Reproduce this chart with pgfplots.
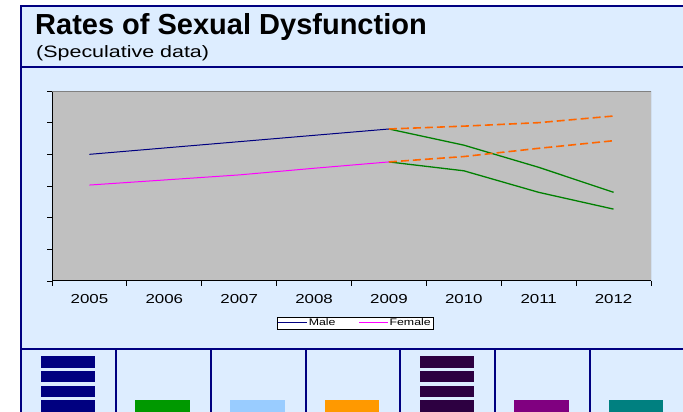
\documentclass[border=0pt]{standalone}
\usepackage{fontspec}
\setmainfont{Liberation Sans}
\newfontfamily\widefont{Liberation Sans}[FakeStretch=1.3]
\usepackage{pgfplots}
\pgfplotsset{compat=1.18}
\definecolor{panel}{RGB}{221,237,255}
\definecolor{navyb}{RGB}{0,0,128}
\definecolor{plotgrey}{RGB}{192,192,192}
\definecolor{magline}{RGB}{255,0,255}
\definecolor{greenline}{RGB}{0,128,0}
\definecolor{orangeline}{RGB}{255,102,0}
\definecolor{bargreen}{RGB}{0,153,0}
\definecolor{barlblue}{RGB}{153,204,255}
\definecolor{barorange}{RGB}{255,153,0}
\definecolor{bardpurple}{RGB}{45,0,65}
\definecolor{barpurple}{RGB}{128,0,128}
\definecolor{barteal}{RGB}{0,128,128}
\begin{document}
\begin{tikzpicture}[x=1pt,y=1pt]
\useasboundingbox (0,0) rectangle (683,412);
\fill[panel] (20.5,0) rectangle (683,405.5);
\draw[navyb, line width=2pt] (20.5,0) -- (20.5,405.5) -- (683,405.5);
\draw[navyb, line width=2pt] (20.5,344.5) -- (683,344.5);
\draw[navyb, line width=2pt] (20.5,63) -- (683,63);
\foreach \xx in {115.7,210.7,305.8,400,495,589.8}{
  \draw[navyb, line width=2pt] (\xx,0) -- (\xx,63);
}
\node[anchor=base west, inner sep=0pt] at (35,377) {\fontsize{29}{29}\selectfont\bfseries Rates of Sexual Dysfunction};
\node[anchor=base west, inner sep=0pt] at (36,354.5) {\widefont\fontsize{16.5}{16.5}\selectfont (Speculative data)};

\begin{axis}[
  at={(52pt,131pt)}, anchor=south west, scale only axis,
  width=599pt, height=190pt,
  xmin=-0.5, xmax=7.5, ymin=0, ymax=6,
  axis x line=bottom, axis y line=left,
  axis line style={-, black, line width=1pt},
  axis background/.style={fill=plotgrey},
  xtick={-0.5,0.5,...,7.5}, xticklabels={},
  extra x ticks={0,1,2,3,4,5,6,7},
  extra x tick labels={2005,2006,2007,2008,2009,2010,2011,2012},
  extra x tick style={major tick length=0pt},
  ytick={0,1,2,3,4,5,6}, yticklabels={},
  tick align=outside, major tick length=5pt,
  tick style={black, line width=0.8pt},
  xticklabel style={font=\widefont\fontsize{13}{13}\selectfont, anchor=base, yshift=-22.3pt},
  legend style={at={(0.5055,-0.221)}, anchor=center, draw=black, fill=white,
    font=\widefont\fontsize{9.5}{9.5}\selectfont, inner sep=1pt,
    nodes={inner sep=1pt},
    /tikz/every even column/.append style={column sep=22pt}},
  legend columns=2,
  legend image code/.code={\draw[#1] (0pt,0pt) -- (29pt,0pt);},
]
\addplot[navyb, line width=1pt] coordinates {(0,4.0)(1,4.2)(2,4.4)(3,4.6)(4,4.8)};
\addlegendentry{Male}
\addplot[magline, line width=1pt] coordinates {(0,3.03)(1,3.19)(2,3.35)(3,3.56)(4,3.76)};
\addlegendentry{Female}
\addplot[forget plot, greenline, line width=1.3pt] coordinates {(4,4.8)(5,4.29)(6,3.59)(7,2.80)};
\addplot[forget plot, greenline, line width=1.3pt] coordinates {(4,3.76)(5,3.48)(6,2.80)(7,2.27)};
\addplot[forget plot, orangeline, line width=1.6pt, dash pattern=on 8pt off 4pt] coordinates {(4,4.8)(5,4.89)(6,5.0)(7,5.21)};
\addplot[forget plot, orangeline, line width=1.6pt, dash pattern=on 8pt off 4pt] coordinates {(4,3.76)(5,3.93)(6,4.19)(7,4.43)};
\draw[gray, line width=0.8pt] (rel axis cs:0,1) -- (rel axis cs:1,1) -- (rel axis cs:1,0);
\end{axis}

\begin{axis}[
  at={(20.55pt,0pt)}, anchor=south west, scale only axis,
  width=663pt, height=62pt,
  xmin=-0.5, xmax=6.5, ymin=0.19, ymax=4.41,
  axis lines=none, clip=true,
]
\addplot[ybar, bar width=54.5pt, bar shift=0pt, fill=navyb, draw=none] coordinates {(0,4)};
\addplot[ybar, bar width=54.5pt, bar shift=0pt, fill=bargreen, draw=none] coordinates {(1,1)};
\addplot[ybar, bar width=54.5pt, bar shift=0pt, fill=barlblue, draw=none] coordinates {(2,1)};
\addplot[ybar, bar width=54.5pt, bar shift=0pt, fill=barorange, draw=none] coordinates {(3,1)};
\addplot[ybar, bar width=54.5pt, bar shift=0pt, fill=bardpurple, draw=none] coordinates {(4,4)};
\addplot[ybar, bar width=54.5pt, bar shift=0pt, fill=barpurple, draw=none] coordinates {(5,1)};
\addplot[ybar, bar width=54.5pt, bar shift=0pt, fill=barteal, draw=none] coordinates {(6,1)};
\addplot[panel, line width=3.3pt] coordinates {(-0.31,1.1)(0.31,1.1)};
\addplot[panel, line width=3.3pt] coordinates {(-0.31,2.1)(0.31,2.1)};
\addplot[panel, line width=3.3pt] coordinates {(-0.31,3.1)(0.31,3.1)};
\addplot[panel, line width=3.3pt] coordinates {(3.69,1.1)(4.31,1.1)};
\addplot[panel, line width=3.3pt] coordinates {(3.69,2.1)(4.31,2.1)};
\addplot[panel, line width=3.3pt] coordinates {(3.69,3.1)(4.31,3.1)};
\end{axis}
\end{tikzpicture}
\end{document}
